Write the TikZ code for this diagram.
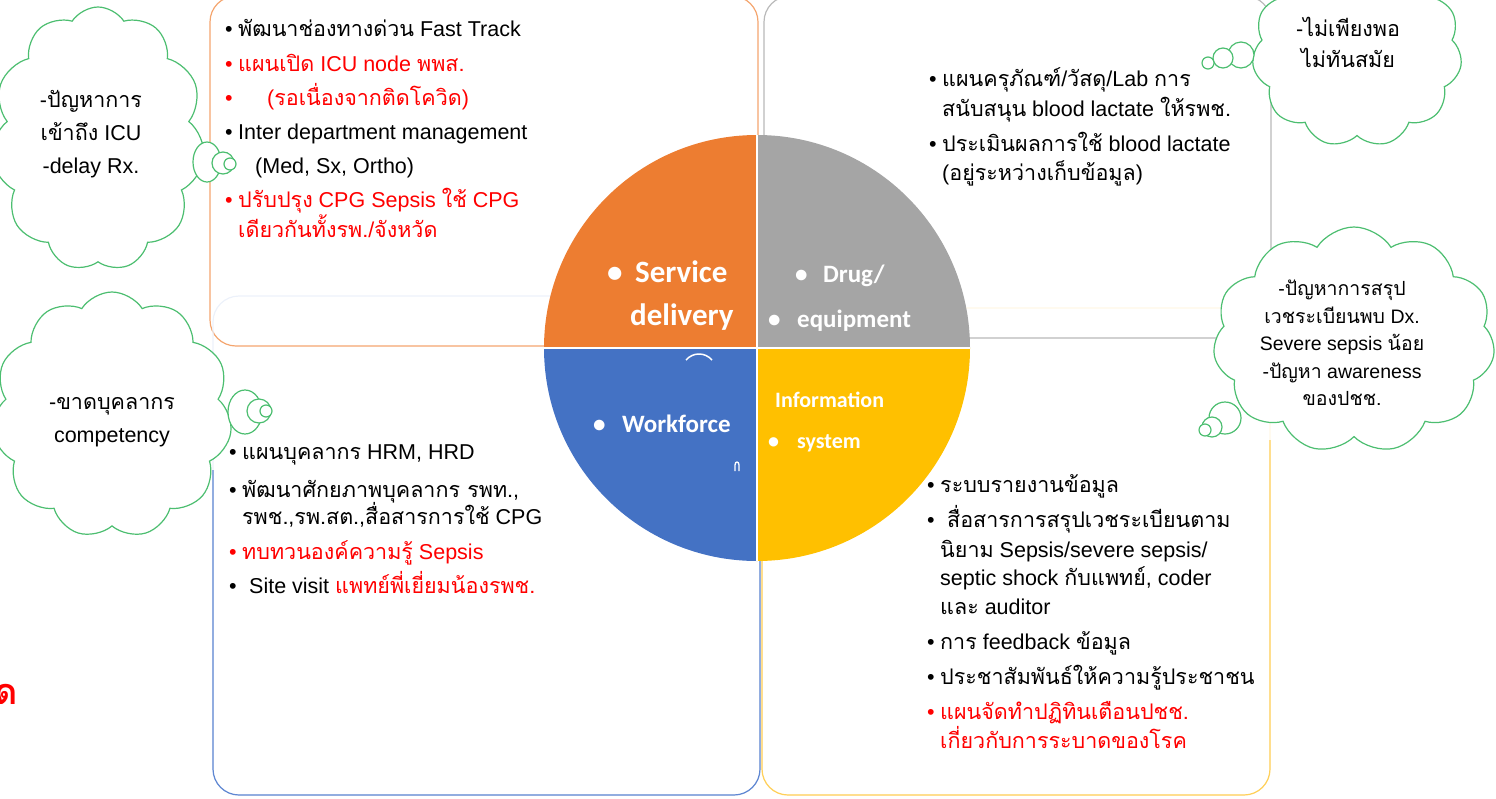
\documentclass[tikz,border=0pt]{standalone}
\usepackage{fontspec}
\setmainfont{Liberation Sans}
\newfontfamily\thaifont[Script=Thai]{Loma}
\newfontfamily\calfont{Carlito}
\usetikzlibrary{shapes.symbols, positioning}

\definecolor{sdorange}{RGB}{237,125,49}
\definecolor{dggray}{RGB}{165,165,165}
\definecolor{wfblue}{RGB}{68,114,196}
\definecolor{isyellow}{RGB}{255,192,0}
\definecolor{sdline}{RGB}{244,165,110}
\definecolor{dgline}{RGB}{185,185,185}
\definecolor{wfline}{RGB}{95,135,210}
\definecolor{isline}{RGB}{255,208,90}
\definecolor{cloudgreen}{RGB}{76,190,112}
\definecolor{txtred}{RGB}{255,0,0}

\newcommand\thx[1]{{\thaifont#1}}
\newcommand\rd[1]{\textcolor{txtred}{#1}}
\newcommand\itembul{\makebox[13pt][l]{\textbullet}}
\newcommand\itemgap{\hspace*{13pt}}

\begin{document}
\begin{tikzpicture}[x=1pt, y=-1pt,
    boxline/.style={line width=1.2pt, rounded corners=26pt},
    boxtext/.style={anchor=north west, inner sep=0pt, align=left,
        font={\fontsize{21.5}{29}\selectfont\lineskiplimit=-30pt}},
    qlabel/.style={text=white, inner sep=0pt, anchor=base west},
    ideacloud/.style={cloud, cloud puffs=11, cloud puff arc=115, cloud ignores aspect,
        draw=cloudgreen, fill=white, line width=1.2pt, inner sep=0pt},
    cloudtext/.style={align=center, inner sep=0pt, font={\fontsize{21.5}{33}\selectfont}},
    bubble/.style={draw=cloudgreen, fill=white, line width=1.2pt}]

  \useasboundingbox (0,0) rectangle (1496,798);

  % Boxes
  \draw[boxline, draw=sdline] (210,-4) rectangle (758,346);
  \draw[boxline, draw=dgline] (764,-4) rectangle (1271,338);
  \draw[boxline, draw=wfline!12] (213,296) rectangle (760,795);
  \draw[boxline, draw=wfline] (213,470) -- (213,795) -- (760,795) -- (760,560);
  \draw[boxline, draw=isline!15] (762,308) rectangle (1270,795);
  \draw[boxline, draw=isline] (1270,440) -- (1270,795) -- (762,795) -- (762,560);

  % Circle
  \coordinate (c) at (757,348);
  \fill[sdorange] (c) -- +(180:213) arc[start angle=180, end angle=270, radius=213] -- cycle;
  \fill[dggray] (c) -- +(270:213) arc[start angle=270, end angle=360, radius=213] -- cycle;
  \fill[isyellow] (c) -- +(0:213) arc[start angle=0, end angle=90, radius=213] -- cycle;
  \fill[wfblue] (c) -- +(90:213) arc[start angle=90, end angle=180, radius=213] -- cycle;
  \draw[white, line width=1.5pt] (c) ++(-213,0) -- ++(426,0);
  \draw[white, line width=1.5pt] (c) ++(0,-213) -- ++(0,426);
  \draw[white, line width=1.5pt] (686,360) .. controls (693,352) and (705,352) .. (712,360);
  \draw[white, line width=1.3pt] (735,471) -- (735,465) .. controls (735,461) and (739,461) .. (739,465) -- (739,471);

  % Circle labels
  \node[qlabel, font=\calfont\bfseries\fontsize{31}{36}\selectfont] (sd1) at (607,282) {\makebox[28pt][l]{\textbullet}Service};
  \node[qlabel, font=\calfont\bfseries\fontsize{31}{36}\selectfont] (sd2) at (630,325) {delivery};
  \node[qlabel, font=\calfont\bfseries\fontsize{25}{30}\selectfont] (dg1) at (795,282) {\makebox[28pt][l]{\textbullet}Drug/};
  \node[qlabel, font=\calfont\bfseries\fontsize{25}{30}\selectfont] (dg2) at (768,327) {\makebox[29pt][l]{\textbullet}equipment};
  \node[qlabel, font=\calfont\bfseries\fontsize{25}{30}\selectfont] (wf) at (593,432) {\makebox[29pt][l]{\textbullet}Workforce};
  \node[qlabel, font=\calfont\bfseries\fontsize{22}{26}\selectfont] (is1) at (775,407) {Information};
  \node[qlabel, font=\calfont\bfseries\fontsize{22}{26}\selectfont] (is2) at (768,448) {\makebox[29pt][l]{\textbullet}system};

  % Box texts
  \node[boxtext] (sdlist) at (225,19) {%
    \itembul\thx{พัฒนาช่องทางด่วน} Fast Track\\[6pt]
    \rd{\itembul\thx{แผนเปิด} ICU node \thx{พพส.}}\\[5pt]
    \rd{\itembul\hspace*{29pt}(\thx{รอเนื่องจากติดโควิด})}\\[5pt]
    \itembul Inter department management\\[5pt]
    \hspace*{30pt}(Med, Sx, Ortho)\\[5pt]
    \rd{\itembul\thx{ปรับปรุง} CPG Sepsis \thx{ใช้} CPG}\\[1pt]
    \rd{\itemgap\thx{เดียวกันทั้งรพ.}/\thx{จังหวัด}}};

  \node[boxtext] (dglist) at (929,67) {%
    \itembul\thx{แผนครุภัณฑ์}/\thx{วัสดุ}/Lab \thx{การ}\\[1pt]
    \itemgap\thx{สนับสนุน} blood lactate \thx{ให้รพช.}\\[6pt]
    \itembul\thx{ประเมินผลการใช้} blood lactate\\
    \itemgap(\thx{อยู่ระหว่างเก็บข้อมูล})};

  \node[boxtext] (wflist) at (229,444) {%
    \itembul\thx{แผนบุคลากร} HRM, HRD\\[9pt]
    \itembul\thx{พัฒนาศักยภาพบุคลากร รพท.},\\[-2pt]
    \itemgap\thx{รพช.},\thx{รพ.สต.},\thx{สื่อสารการใช้} CPG\\[6pt]
    \rd{\itembul\thx{ทบทวนองค์ความรู้} Sepsis}\\[5pt]
    \itembul\hspace*{7pt}Site visit \rd{\thx{แพทย์พี่เยี่ยมน้องรพช.}}};

  \node[boxtext] (islist) at (927,474) {%
    \itembul\thx{ระบบรายงานข้อมูล}\\[6pt]
    \itembul\hspace*{7pt}\thx{สื่อสารการสรุปเวชระเบียนตาม}\\[1pt]
    \itemgap\thx{นิยาม} Sepsis/severe sepsis/\\[-1pt]
    \itemgap septic shock \thx{กับแพทย์}, coder\\
    \itemgap\thx{และ} auditor\\[6pt]
    \itembul\thx{การ} feedback \thx{ข้อมูล}\\[6pt]
    \itembul\thx{ประชาสัมพันธ์ให้ความรู้ประชาชน}\\[6pt]
    \rd{\itembul\thx{แผนจัดทำปฏิทินเตือนปชช.}}\\
    \rd{\itemgap\thx{เกี่ยวกับการระบาดของโรค}}};

  % Clouds
  \node[ideacloud, minimum width=214pt, minimum height=264pt] (cl1) at (98,139) {};
  \draw[bubble] (207,162) ellipse[x radius=14, y radius=20];
  \draw[bubble] (223,163) circle[radius=11];
  \draw[bubble] (230,164) circle[radius=6];
  \node[cloudtext] (cl1txt) at (91,134) {-\thx{ปัญหาการ}\\\thx{เข้าถึง} ICU\\-delay Rx.};

  \node[ideacloud, minimum width=240pt, minimum height=246pt] (cl2) at (112,415) {};
  \draw[bubble] (245,412) ellipse[x radius=17, y radius=22];
  \draw[bubble] (259,411) circle[radius=12];
  \draw[bubble] (266,411) circle[radius=6];
  \node[cloudtext] (cl2txt) at (112,422) {-\thx{ขาดบุคลากร}\\competency};

  \node[ideacloud, minimum width=210pt, minimum height=190pt] (cl3) at (1357,52) {};
  \draw[bubble] (1241,55) circle[radius=13];
  \draw[bubble] (1223,58) circle[radius=10];
  \draw[bubble] (1208,63) circle[radius=6];
  \node[cloudtext, font={\fontsize{21.5}{31}\selectfont}] (cl3txt) at (1348,42) {-\thx{ไม่เพียงพอ}\\\thx{ไม่ทันสมัย}};

  \node[ideacloud, minimum width=282pt, minimum height=226pt] (cl4) at (1354,340) {};
  \draw[bubble] (1225,418) circle[radius=16];
  \draw[bubble] (1212,427) circle[radius=10];
  \draw[bubble] (1205,430) circle[radius=6];
  \node[cloudtext, font={\fontsize{19.5}{27.5}\selectfont}] (cl4txt) at (1342,343) {%
    -\thx{ปัญหาการสรุป}\\\thx{เวชระเบียนพบ} Dx.\\Severe sepsis \thx{น้อย}\\-\thx{ปัญหา} awareness\\\thx{ของปชช.}};

  % cut-off letter at the left edge
  \node[text=txtred, inner sep=0pt, font={\fontsize{36}{40}\thaifont\bfseries}] (cutoff) at (6,694) {ด};
\end{tikzpicture}
\end{document}
